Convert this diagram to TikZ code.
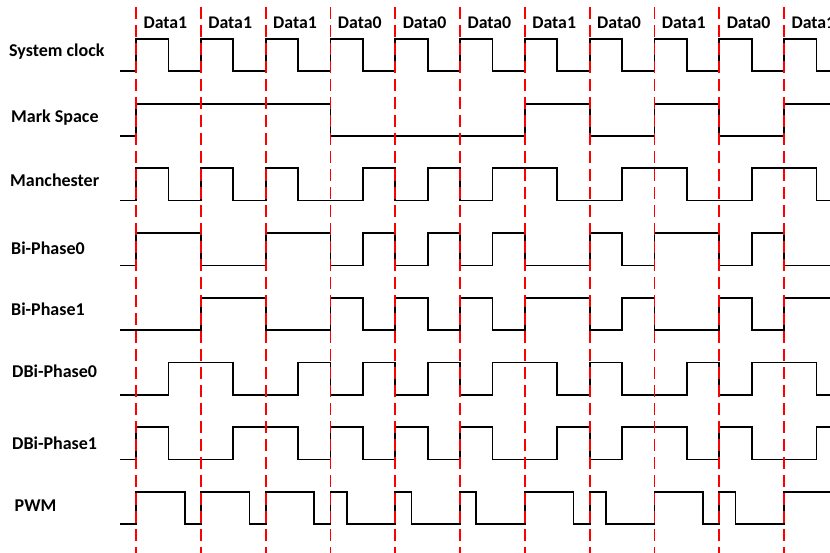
\documentclass[tikz,border=0pt]{standalone}
\usepackage{fontspec}
\setmainfont{Carlito}
\newcommand{\wavepath}[4]{% #1 high y, #2 low y, #3 step, #4 levels
  \draw[wave] (120,#2) -- (136,#2)
  \foreach \v [count=\i] in {#4} { |- ({136+#3*\i},{#2+(#1-#2)*\v}) };
}
\begin{document}
\begin{tikzpicture}[x=1pt,y=-1pt,
  wave/.style={black,line width=1.8pt,line join=miter},
  gridline/.style={red,line width=1.8pt,dash pattern=on 12pt off 6pt},
  lbl/.style={font=\fontsize{18}{21}\selectfont\bfseries,inner sep=0pt,anchor=base west},
  dlbl/.style={font=\fontsize{17.8}{21}\selectfont\bfseries,inner sep=0pt,anchor=base}]
\useasboundingbox (0,0) rectangle (830,553);
\clip (0,0) rectangle (830,553);

% row labels
\node[lbl] (lclk) at (9,56.7) {System clock};
\node[lbl] (lms) at (11,123) {Mark Space};
\node[lbl] (lman) at (10,186.7) {Manchester};
\node[lbl] (lbp0) at (11,255) {Bi-Phase0};
\node[lbl] (lbp1) at (11,316) {Bi-Phase1};
\node[lbl] (ldbp0) at (12,377) {DBi-Phase0};
\node[lbl] (ldbp1) at (12,449) {DBi-Phase1};
\node[lbl] (lpwm) at (14.5,511.7) {PWM};

% data labels
\foreach \b [count=\k from 0] in {1,1,1,0,0,0,1,0,1,0,1}
  \node[dlbl] (d\k) at ({136+64.8*\k+29.4},28.3) {Data\b};

% waveforms
\wavepath{39}{71}{32.4}{1,0,1,0,1,0,1,0,1,0,1,0,1,0,1,0,1,0,1,0,1,0}
\wavepath{103.7}{135.7}{32.4}{1,1,1,1,1,1,0,0,0,0,0,0,1,1,0,0,1,1,0,0,1,1}
\wavepath{168.4}{200.6}{32.4}{1,0,1,0,1,0,0,1,0,1,0,1,1,0,0,1,1,0,0,1,1,0}
\wavepath{233.2}{265.6}{32.4}{1,1,0,0,1,1,0,1,0,1,0,1,0,0,1,0,1,1,0,1,0,0}
\wavepath{297.8}{330}{32.4}{0,0,1,1,0,0,1,0,1,0,1,0,1,1,0,1,0,0,1,0,1,1}
\wavepath{362.4}{395}{32.4}{0,1,1,0,0,1,0,1,0,1,0,1,1,0,1,0,0,1,0,1,1,0}
\wavepath{427.2}{459.4}{32.4}{1,0,0,1,1,0,1,0,1,0,1,0,0,1,0,1,1,0,1,0,0,1}
\wavepath{491.8}{524.3}{16.2}{1,1,1,0,1,1,1,0,1,1,1,0,1,0,0,0,1,0,0,0,1,0,0,0,1,1,1,0,1,0,0,0,1,1,1,0,1,0,0,0,1,1,1,0}

% bit boundaries
\foreach \k in {0,...,10}
  \draw[gridline] ({136+64.8*\k},7) -- ({136+64.8*\k},553);
\end{tikzpicture}
\end{document}
